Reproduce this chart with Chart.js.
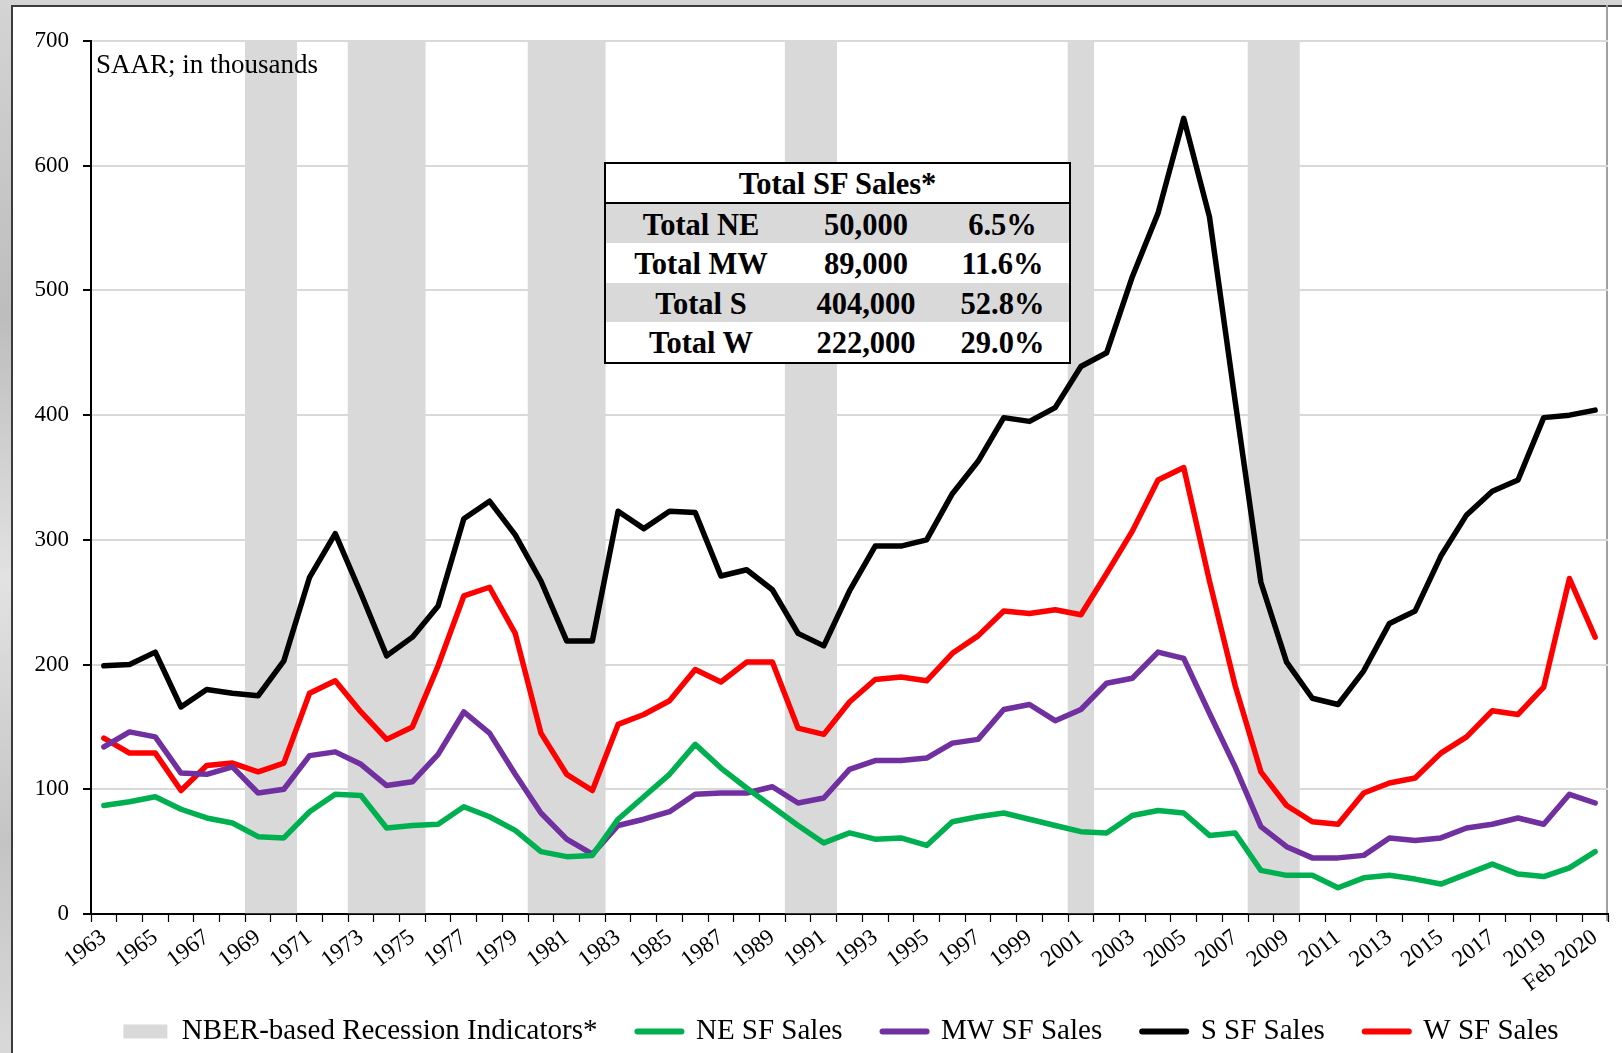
<!DOCTYPE html>
<html>
<head>
<meta charset="utf-8">
<script src="https://cdn.jsdelivr.net/npm/chart.js@4/dist/chart.umd.min.js"></script>
<style>
  html, body { margin: 0; padding: 0; width: 1622px; height: 1053px; overflow: hidden; }
  body { background: linear-gradient(180deg, #d4d4d4 0%, #bdbdbd 30%, #e2e2e2 55%, #c4c4c4 80%, #d9d9d9 100%); position: relative; }
  #frame { position: absolute; left: 11px; top: 5px; width: 1700px; height: 1200px; background: #fff;
           border-left: 2px solid #3c3c3c; border-top: 2px solid #3c3c3c; }
  #rightline { position: absolute; left: 1606px; top: 5px; width: 2px; height: 916px; background: #a0a0a0; }
  #chart { position: absolute; left: 0; top: 0; }
  #note { position: absolute; left: 96px; top: 49px; font: 27px "Liberation Serif", serif; line-height: 30px; color: #000; white-space: nowrap; }
  #tbl { position: absolute; left: 604px; top: 162px; border-collapse: collapse; border: 2px solid #000; background: #fff;
         font: bold 30.5px "Liberation Serif", serif; color: #000; }
  #tbl td { height: 35.5px; padding: 4px 0 0 0; text-align: center; white-space: nowrap; line-height: 35.5px; }
  #tbl th { height: 34.5px; padding: 3px 0 0 0; text-align: center; white-space: nowrap; line-height: 34.5px; border-bottom: 2px solid #000; font-weight: bold; }
  #tbl tr.shade td { background: #d9d9d9; }
</style>
</head>
<body>
<div id="frame"></div>
<div id="rightline"></div>
<canvas id="chart" width="1622" height="1053"></canvas>
<div id="note">SAAR; in thousands</div>
<table id="tbl"></table>
<script>
// ---- data ----
const categories = ['1963','1964','1965','1966','1967','1968','1969','1970','1971','1972',
  '1973','1974','1975','1976','1977','1978','1979','1980','1981','1982',
  '1983','1984','1985','1986','1987','1988','1989','1990','1991','1992',
  '1993','1994','1995','1996','1997','1998','1999','2000','2001','2002',
  '2003','2004','2005','2006','2007','2008','2009','2010','2011','2012',
  '2013','2014','2015','2016','2017','2018','2019','Jan 2020','Feb 2020'];

const neSales = [87,90,94,84,77,73,62,61,82,96,
  95,69,71,72,86,78,67,50,46,47,
  76,94,112,136,117,101,86,71,57,65,
  60,61,55,74,78,81,76,71,66,65,
  79,83,81,63,65,35,31,31,21,29,
  31,28,24,32,40,32,30,37,50];

const mwSales = [134,146,142,113,112,118,97,100,127,130,
  120,103,106,128,162,145,112,81,60,48,
  71,76,82,96,97,97,102,89,93,116,
  123,123,125,137,140,164,168,155,164,185,
  189,210,205,161,118,70,54,45,45,47,
  61,59,61,69,72,77,72,96,89];

const sSales = [199,200,210,166,180,177,175,203,270,305,
  257,207,222,247,317,331,304,267,219,219,
  323,309,323,322,271,276,260,225,215,259,
  295,295,300,337,363,398,395,406,439,450,
  511,562,638,559,411,266,202,173,168,195,
  233,243,287,320,339,348,398,400,404];

const wSales = [141,129,129,99,119,121,114,121,177,187,
  162,140,150,199,255,262,225,145,112,99,
  152,160,171,196,186,202,202,149,144,170,
  188,190,187,209,223,243,241,244,240,273,
  307,348,358,267,183,114,87,74,72,97,
  105,109,129,142,163,160,182,269,222];

const recessionYears = ['1969','1970','1973','1974','1975','1980','1981','1982','1990','1991','2001','2008','2009'];
const recessionTop = 700;

const yTicks = [0,100,200,300,400,500,600,700];

const tableTitle = 'Total SF Sales*';
const tableRegions = ['Total NE','Total MW','Total S','Total W'];
const tableTotals = ['50,000','89,000','404,000','222,000'];
const tableShares = ['6.5%','11.6%','52.8%','29.0%'];

const seriesNames = ['NBER-based Recession Indicators*','NE SF Sales','MW SF Sales','S SF Sales','W SF Sales'];

// ---- table ----
(function buildTable(){
  const t = document.getElementById('tbl');
  let html = '<tr><th colspan="3">' + tableTitle + '</th></tr>';
  tableRegions.forEach((r, i) => {
    html += '<tr class="' + (i % 2 === 0 ? 'shade' : '') + '"><td style="width:190px">' + r +
            '</td><td style="width:140px">' + tableTotals[i] + '</td><td style="width:133px">' + tableShares[i] + '</td></tr>';
  });
  t.innerHTML = html;
})();

// ---- chart ----
const recessionBand = categories.map(c => recessionYears.includes(c) ? recessionTop : null);
const serif = '"Liberation Serif", "Times New Roman", serif';

function lineDs(label, data, color) {
  return { type: 'line', label, data, borderColor: color, backgroundColor: color, borderWidth: 5.5,
           pointRadius: 0, tension: 0, borderJoinStyle: 'round', borderCapStyle: 'round', order: 1, fill: false };
}

// widen the label clipping boxes after layout so axis text is not cut
const labelRoom = {
  id: 'labelRoom',
  afterLayout(chart) {
    chart.scales.y.left = 0;
    chart.scales.x.bottom = chart.height;
  }
};

new Chart(document.getElementById('chart'), {
  data: {
    labels: categories,
    datasets: [
      { type: 'bar', label: seriesNames[0], data: recessionBand, backgroundColor: '#d9d9d9', borderWidth: 0,
        barPercentage: 1.0, categoryPercentage: 1.0, order: 5 },
      lineDs(seriesNames[1], neSales, '#00b050'),
      lineDs(seriesNames[2], mwSales, '#7030a0'),
      lineDs(seriesNames[3], sSales, '#000000'),
      lineDs(seriesNames[4], wSales, '#ff0000')
    ]
  },
  plugins: [labelRoom],
  options: {
    responsive: false,
    animation: false,
    events: [],
    layout: { padding: { left: 74, right: 14, top: 41, bottom: -3 } },
    scales: {
      x: {
        type: 'category',
        offset: true,
        grid: { display: true, drawOnChartArea: false, drawTicks: true, tickLength: 8, tickColor: '#000', tickWidth: 1.2, offset: true },
        border: { display: true, color: '#000', width: 2 },
        ticks: {
          autoSkip: false, maxRotation: 37, minRotation: 37, padding: 2, color: '#000',
          font: { family: serif, size: 23 },
          callback: (v, i) => (i % 2 === 0 ? categories[i] : '')
        },
        afterFit: (s) => { s.height = 63; s.paddingLeft = 0; s.paddingRight = 0; }
      },
      y: {
        min: 0, max: 700,
        afterBuildTicks: (s) => { s.ticks = yTicks.map(v => ({ value: v })); },
        grid: { color: '#d9d9d9', lineWidth: 2, drawTicks: true, tickLength: 8, tickColor: '#000', tickWidth: 2 },
        border: { display: true, color: '#000', width: 2 },
        ticks: { padding: 14, color: '#000', font: { family: serif, size: 23 } },
        afterFit: (s) => { s.width = 17; s.paddingTop = 0; s.paddingBottom = 0; }
      }
    },
    plugins: {
      tooltip: { enabled: false },
      legend: {
        position: 'bottom',
        labels: {
          usePointStyle: true, pointStyleWidth: 44, boxHeight: 14, padding: 40, color: '#000',
          font: { family: serif, size: 29 },
          sort: (a, b) => a.datasetIndex - b.datasetIndex,
          generateLabels: (chart) => {
            const items = Chart.defaults.plugins.legend.labels.generateLabels(chart);
            items.forEach(it => {
              const ds = chart.data.datasets[it.datasetIndex];
              if (ds.type === 'bar') {
                it.pointStyle = 'rect'; it.fillStyle = '#d9d9d9'; it.strokeStyle = '#d9d9d9'; it.lineWidth = 0;
              } else {
                it.pointStyle = 'line'; it.strokeStyle = ds.borderColor; it.fillStyle = ds.borderColor;
                it.lineWidth = 6; it.lineCap = 'round';
              }
              it.fontColor = '#000';
            });
            return items;
          }
        }
      }
    }
  }
});
</script>
</body>
</html>
